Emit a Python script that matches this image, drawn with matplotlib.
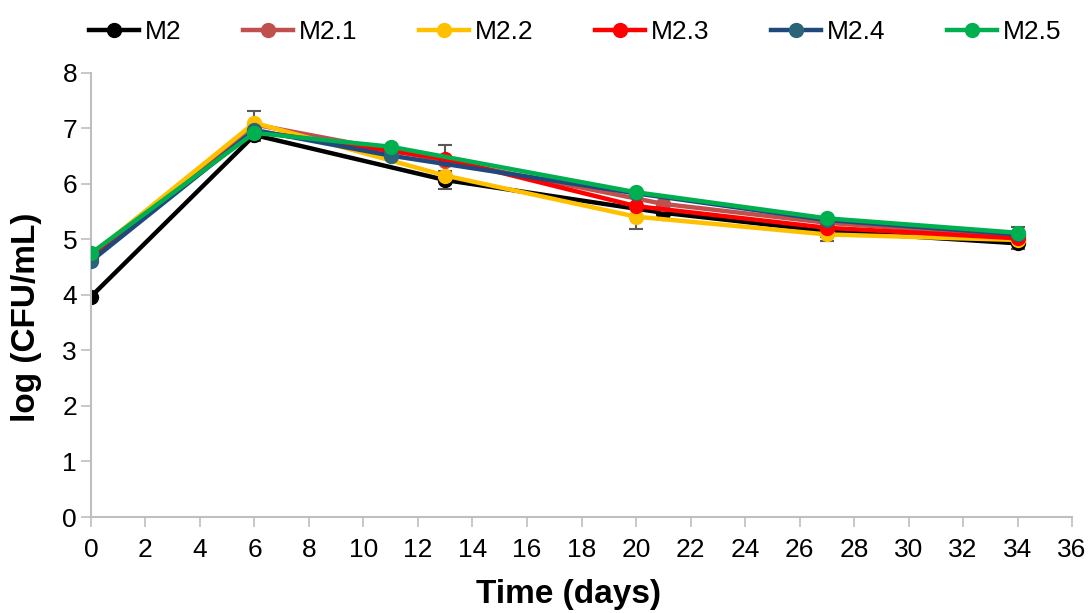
import matplotlib
matplotlib.use("Agg")
import matplotlib.pyplot as plt
from matplotlib.lines import Line2D

plt.rcParams['font.family'] = ['Liberation Sans', 'DejaVu Sans']

series_names = ["M2", "M2.1", "M2.2", "M2.3", "M2.4", "M2.5"]

days_m2 = [0, 6, 13, 21, 27, 34]
vals_m2 = [3.97, 6.88, 6.07, 5.48, 5.15, 4.93]

days_m21 = [0, 6, 13, 21, 27, 34]
vals_m21 = [4.65, 7.07, 6.42, 5.64, 5.30, 5.06]

days_m22 = [0, 6, 13, 20, 27, 34]
vals_m22 = [4.72, 7.10, 6.15, 5.41, 5.09, 4.99]

days_m23 = [0, 6, 13, 20, 27, 34]
vals_m23 = [4.68, 6.95, 6.45, 5.60, 5.21, 5.02]

days_m24 = [0, 6, 11, 20, 27, 34]
vals_m24 = [4.61, 6.97, 6.51, 5.83, 5.35, 5.09]

days_m25 = [0, 6, 11, 20, 27, 34]
vals_m25 = [4.75, 6.92, 6.67, 5.85, 5.38, 5.12]

# standard deviations (0 where no bar is shown)
err_m2 = [0.0, 0.10, 0.17, 0.12, 0.10, 0.10]
err_m21 = [0.0, 0.0, 0.0, 0.0, 0.0, 0.0]
err_m22 = [0.0, 0.22, 0.0, 0.22, 0.12, 0.0]
err_m23 = [0.0, 0.0, 0.25, 0.0, 0.0, 0.0]
err_m24 = [0.0, 0.0, 0.0, 0.0, 0.0, 0.0]
err_m25 = [0.0, 0.0, 0.0, 0.0, 0.0, 0.10]

x_ticks = list(range(0, 37, 2))
y_ticks = list(range(0, 9))

line_colors = ["#000000", "#C0504D", "#FFC000", "#FF0000", "#1F497D", "#00B050"]
marker_colors = ["#000000", "#C0504D", "#FFC000", "#FF0000", "#2A6478", "#00B050"]

days = [days_m2, days_m21, days_m22, days_m23, days_m24, days_m25]
vals = [vals_m2, vals_m21, vals_m22, vals_m23, vals_m24, vals_m25]
errs = [err_m2, err_m21, err_m22, err_m23, err_m24, err_m25]

fig = plt.figure(figsize=(10.91, 6.13), dpi=100)
ax = fig.add_axes([0.0834, 0.1566, 0.8992, 0.7245])

for i, name in enumerate(series_names):
    ax.errorbar(days[i], vals[i], yerr=errs[i], fmt="none", ecolor="#595959",
                elinewidth=1.5, capsize=5, capthick=1.5, zorder=1)
    ax.plot(days[i], vals[i], color=line_colors[i], lw=3.2, marker="o",
            markersize=10, markerfacecolor=marker_colors[i],
            markeredgecolor=marker_colors[i], zorder=2 + i)

ax.set_xlim(0, 36)
ax.set_ylim(0, 8)
ax.set_xticks(x_ticks)
ax.set_yticks(y_ticks)
ax.tick_params(axis="both", labelsize=19, color="#BFBFBF", length=7, width=1.2,
               pad=3)
ax.tick_params(axis="x", pad=8)
for s in ["top", "right"]:
    ax.spines[s].set_visible(False)
for s in ["left", "bottom"]:
    ax.spines[s].set_color("#BFBFBF")
    ax.spines[s].set_linewidth(1.5)

ax.set_xlabel("Time (days)", fontsize=24, fontweight="bold")
ax.set_ylabel("log (CFU/mL)", fontsize=24, fontweight="bold")
ax.xaxis.set_label_coords(0.487, -0.14)
ax.yaxis.set_label_coords(-0.05, 0.45)

handles = [Line2D([0], [0], color=line_colors[i], lw=3.2, marker="o", markersize=10,
                  markerfacecolor=marker_colors[i], markeredgecolor=marker_colors[i])
           for i in range(len(series_names))]
fig.legend(handles, series_names, loc="upper left", bbox_to_anchor=(0.072, 0.985),
           ncol=6, frameon=False, fontsize=19, handlelength=1.9, handletextpad=0.2,
           columnspacing=2.35, borderaxespad=0.0)

fig.savefig("out.png", dpi=100)
